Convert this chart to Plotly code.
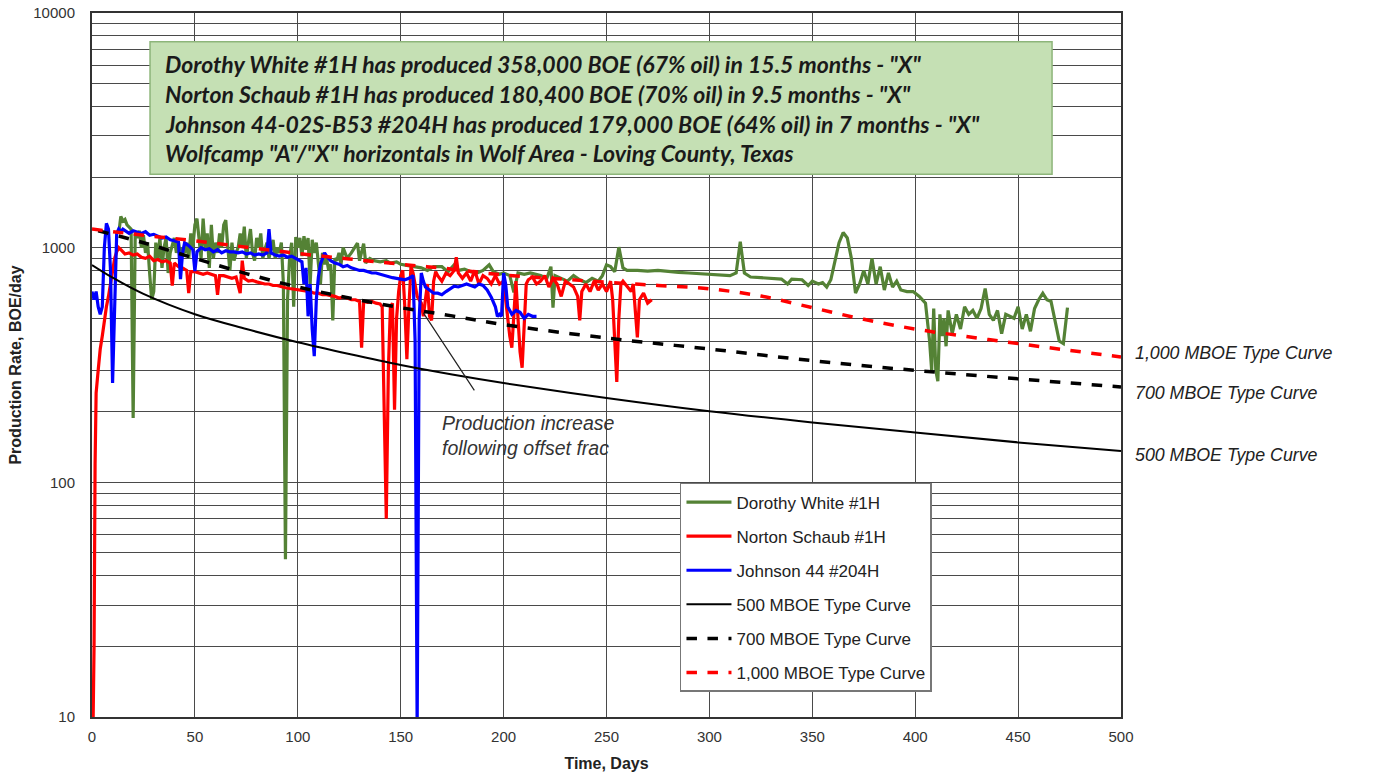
import plotly.graph_objects as go
import math

# ---------------- data ----------------
dw_days = [13,14,15,16,17,18,19,20,21,22,23,24,25,26,27,28,29,30,31,32,33,34,35,36,37,38,40,41,42,43,44,45,46,47,48,49,
           50,51,52,53,54,55,56,57,58,59,60,61,62,63,64,65,66,67,68,69,70,71,72,73,74,75,76,77,78,79,80,81,82,83,84,85,86,87,88,89,
           90,91,92,93,94,95,96,97,98,99,100,101,102,103,104,105,106,107,108,109,110,111,112,113,114,115,116,117,118,119,120,121,122,124,126,128,129,
           130,131,132,133,135,137,140,143,145,148,150,153,156,160,163,166,170,173,176,178,181,184,187,190,193,195,198,200,203,205,207,210,213,216,218,
           221,223,224,225,228,231,234,237,240,243,246,248,250,252,254,256,258,260,265,270,275,280,285,290,295,300,305,310,313,315,317,320,325,330,335,338,
           340,345,348,350,353,355,357,359,361,363,365,367,369,371,373,375,377,379,381,383,385,387,389,391,393,396,399,402,405,407,408,409,410,411,412,413,
           414,415,416,418,420,422,424,426,428,430,432,434,436,438,440,442,444,446,448,450,452,454,456,458,460,462,464,466,468,470,472,474]
dw_rate = [1150,1360,1300,1320,1250,1220,1200,188,1150,1100,1180,1000,1130,950,1050,780,600,650,1050,900,1100,820,1000,1100,780,950,1100,950,1060,900,1000,950,1050,900,1150,1000,
           1250,1330,1050,900,1330,1000,1150,820,1250,900,1050,950,1150,1000,1250,1310,1000,800,1050,880,950,1000,1150,1000,1230,900,1050,1200,950,880,1100,1000,1150,900,980,1050,900,980,1080,900,
           1000,950,1050,700,47,600,900,1050,560,1110,1000,1100,920,1120,980,1100,700,1080,950,1050,880,700,950,850,900,800,850,490,900,880,950,850,1000,900,950,1020,1045,
           880,950,1040,860,900,880,870,880,860,870,850,840,830,820,800,830,830,790,845,800,810,790,780,800,845,790,770,780,760,645,780,770,780,770,760,
           740,830,555,760,740,720,760,730,710,740,720,760,845,830,790,1005,820,800,800,795,800,790,785,780,775,770,765,760,780,1060,780,750,745,740,735,700,
           735,730,690,720,700,710,680,730,880,1050,1160,1100,900,640,700,800,700,900,700,830,660,780,680,720,660,650,650,620,580,400,300,550,300,270,520,420,
           500,380,540,430,520,450,560,520,540,500,550,670,520,490,540,430,520,510,500,560,450,520,440,550,600,640,600,590,480,400,390,555]

ns_days = [0.5,1,1.5,2,3,4,5,6,7,8,9,10,11,12,13,14,15,16,18,20,22,24,26,28,30,32,34,36,38,39,40,42,44,46,47,48,50,52,54,56,58,60,61,62,64,66,68,70,72,73,74,
           76,78,80,82,84,86,88,90,92,94,96,98,100,102,104,106,108,110,112,114,116,118,120,122,124,126,128,130,131,132,134,136,138,140,141,142,143,144,145,146,147,148,149,
           150,151,152,153,154,155,156,157,158,160,161,162,163,164,165,166,167,168,170,172,174,176,177,178,180,182,184,186,188,190,192,194,196,198,200,201,202,203,204,205,
           206,207,208,209,210,211,212,214,216,218,220,222,224,226,228,230,232,234,236,237,238,240,242,244,246,248,250,252,253,254,255,256,257,258,260,262,263,264,265,266,268,270,272]
ns_rate = [9,20,120,240,300,370,420,500,560,620,700,800,900,960,1000,980,960,940,950,930,940,910,900,920,880,890,870,880,860,690,860,830,820,800,640,790,790,780,770,780,770,760,630,760,760,750,740,750,640,880,740,
           720,725,715,705,700,700,690,690,680,675,670,665,660,655,650,650,640,640,630,630,625,620,610,615,610,600,600,590,375,590,585,590,580,575,560,200,70,300,560,580,204,500,650,
           760,800,560,335,560,830,780,700,620,580,510,600,700,510,490,720,790,760,720,780,760,800,910,780,740,780,720,800,700,760,740,700,760,700,720,600,500,420,375,550,
           720,500,360,308,450,700,730,750,700,720,760,680,740,700,620,720,700,680,620,490,650,700,650,720,660,700,650,720,600,420,268,500,700,720,680,650,700,560,415,600,640,580,600]

jh_days = [0,1,2,3,4,5,6,7,8,9,10,11,12,13,14,15,16,18,20,22,24,26,28,30,32,34,36,38,40,42,43,44,45,47,49,50,51,53,55,57,59,61,63,65,67,69,71,73,75,77,79,81,83,85,86,87,89,
           91,93,95,97,99,101,102,103,104,105,106,107,108,109,110,111,112,113,114,116,118,120,122,124,126,128,130,132,134,136,138,140,142,144,146,148,150,152,154,156,157,158,159,
           160,161,162,164,166,168,170,172,174,176,178,180,182,184,186,188,190,192,194,196,197,198,199,200,201,202,204,206,208,210,212,214,216]
jh_rate = [650,600,650,560,520,560,1000,1270,1200,800,265,600,1150,1200,1170,1200,1180,1150,1180,1160,1150,1170,1130,1140,1120,1100,1110,1080,1070,1055,735,950,1050,1020,980,795,960,1000,980,990,960,980,950,970,960,960,950,960,940,950,930,940,930,950,1200,950,930,
           920,930,910,920,900,880,870,700,820,510,700,450,345,600,750,850,900,950,920,880,860,850,830,840,820,810,800,800,790,780,780,770,760,750,745,740,735,730,740,760,400,9,500,
           780,720,680,660,640,640,630,650,670,685,680,690,700,690,680,700,690,660,615,560,510,520,510,780,700,560,520,540,530,500,520,510,510]

tc500_days = [0,10,25,50,75,100,125,150,175,200,250,300,350,400,450,500]
tc500_rate = [843,745,635,520,450,395,352,316,288,265,229,201,180,163,148,136]
tc700_days = [3,25,50,75,100,125,150,175,200,250,300,350,400,450,500]
tc700_rate = [1180,1050,900,775,680,610,555,512,470,412,370,330,300,276,255]
tc1000_days = [0,25,50,75,100,125,150,175,200,225,250,275,300,325,350,375,400,425,450,475,500]
tc1000_rate = [1200,1130,1070,1005,945,895,850,810,765,738,712,690,668,622,555,495,450,418,390,365,342]

series_names = ["Dorothy White #1H", "Norton Schaub #1H", "Johnson 44 #204H",
                "500 MBOE Type Curve", "700 MBOE Type Curve", "1,000 MBOE Type Curve"]

box_lines = [
    'Dorothy White #1H has produced 358,000 BOE (67% oil) in 15.5 months - "X"',
    'Norton Schaub #1H has produced 180,400 BOE (70% oil) in 9.5 months - "X"',
    'Johnson 44-02S-B53 #204H has produced 179,000 BOE (64% oil) in 7 months - "X"',
    'Wolfcamp "A"/"X" horizontals in Wolf Area - Loving County, Texas',
]

x_ticks = [0, 50, 100, 150, 200, 250, 300, 350, 400, 450, 500]
y_major = [10, 100, 1000, 10000]

# ---------------- figure ----------------
fig = go.Figure()
GREEN = "#548235"
fig.add_trace(go.Scatter(x=dw_days, y=dw_rate, mode="lines", name=series_names[0],
                         line=dict(color=GREEN, width=3.2), legendgroup="a"))
fig.add_trace(go.Scatter(x=ns_days, y=ns_rate, mode="lines", name=series_names[1],
                         line=dict(color="#FF0000", width=3.2), legendgroup="b"))
fig.add_trace(go.Scatter(x=jh_days, y=jh_rate, mode="lines", name=series_names[2],
                         line=dict(color="#0000FF", width=3.2), legendgroup="c"))
fig.add_trace(go.Scatter(x=tc500_days, y=tc500_rate, mode="lines", name=series_names[3],
                         line=dict(color="black", width=2, shape="spline"), legendgroup="d"))
fig.add_trace(go.Scatter(x=tc700_days, y=tc700_rate, mode="lines", name=series_names[4],
                         line=dict(color="black", width=3.5, dash="dash", shape="spline"), legendgroup="e"))
fig.add_trace(go.Scatter(x=tc1000_days, y=tc1000_rate, mode="lines", name=series_names[5],
                         line=dict(color="#FF0000", width=3.5, dash="dash", shape="spline"), legendgroup="f"))

# log grid values (major + minor)
y_grid = []
y_text = []
for dec in [10, 100, 1000]:
    for m in range(1, 10):
        y_grid.append(dec * m)
        y_text.append(str(dec) if m == 1 else "")
y_grid.append(10000)
y_text.append("10000")

GRID = "#4a4a4a"
AX = dict(family="Liberation Sans, Arial, sans-serif", size=15, color="#333333")

fig.update_layout(
    width=1380, height=780,
    margin=dict(l=92, r=259, t=13, b=63, autoexpand=False),
    paper_bgcolor="white", plot_bgcolor="white",
    font=dict(family="Liberation Sans, Arial, sans-serif", color="#222222"),
    xaxis=dict(range=[0, 500], tickvals=x_ticks, showgrid=True, gridcolor=GRID, gridwidth=1,
               showline=True, linecolor="#333333", linewidth=2, mirror=True, zeroline=False,
               tickfont=AX, ticks="", ticklabelstandoff=5, automargin=False,
               title=dict(text="<b>Time, Days</b>", font=dict(size=16, color="#222222"), standoff=14)),
    yaxis=dict(type="log", range=[1, 4], tickvals=y_grid, ticktext=y_text, showgrid=True,
               gridcolor=GRID, gridwidth=1, showline=True, linecolor="#333333", linewidth=2,
               mirror=True, zeroline=False, tickfont=AX, ticks="", ticklabelstandoff=12, automargin=False,
               title=dict(text="<b>Production Rate, BOE/day</b>", font=dict(size=16, color="#222222"), standoff=8)),
    legend=dict(x=0.5714, y=0.3324, xanchor="left", yanchor="top", bgcolor="white",
                bordercolor="#777777", borderwidth=1.5, tracegroupgap=9,
                font=dict(family="Liberation Sans, Arial, sans-serif", size=17, color="#222222"),
                itemwidth=45),
)

# green text box
fig.add_shape(type="rect", xref="paper", yref="paper", x0=0.0564, x1=0.933, y0=0.771, y1=0.959,
              fillcolor="#C5E0B4", line=dict(color="#8DB57A", width=1.5), layer="above")
line_y = [64, 94, 124, 153]
for txt, py in zip(box_lines, line_y):
    fig.add_annotation(xref="paper", yref="paper", x=(163 - 92) / 1029, y=(717 - py) / 704,
                       xanchor="left", yanchor="middle", showarrow=False,
                       text="<b><i>" + txt + "</i></b>",
                       font=dict(family="Lato, sans-serif", size=23, color="#1a1a1a"))

# right-side type curve labels
for txt, py in zip(["1,000 MBOE Type Curve", "700 MBOE Type Curve", "500 MBOE Type Curve"], [353, 393, 455]):
    fig.add_annotation(xref="paper", yref="paper", x=(1133 - 92) / 1029, y=(717 - py) / 704,
                       xanchor="left", yanchor="middle", showarrow=False,
                       text="<i>" + txt + "</i>",
                       font=dict(family="Liberation Sans, Arial, sans-serif", size=17.8, color="#222222"))

# offset frac note
fig.add_annotation(x=161, y=math.log10(527), xref="x", yref="y", text="", showarrow=True,
                   arrowhead=0, arrowwidth=1.2, arrowcolor="#222222", ax=52, ay=79, axref="pixel", ayref="pixel")
fig.add_annotation(x=169, y=math.log10(158), xref="x", yref="y", xanchor="left", yanchor="middle",
                   showarrow=False, align="left",
                   text="<i>Production increase<br>following offset frac</i>",
                   font=dict(family="Liberation Sans, Arial, sans-serif", size=19.5, color="#333333"))

fig.write_html("out.html")
